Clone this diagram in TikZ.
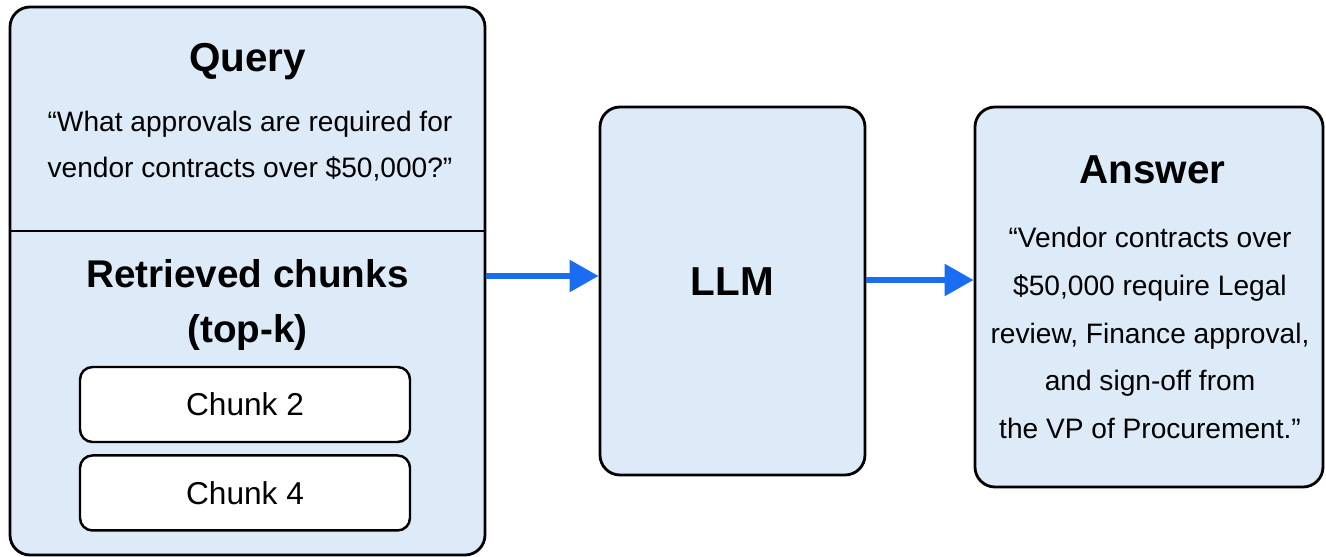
\documentclass[tikz,border=0pt]{standalone}
\usepackage{fontspec}
\setmainfont{Liberation Sans}
\usepackage{tikz}
\usetikzlibrary{arrows.meta, positioning, calc}

\definecolor{panelblue}{RGB}{221,234,248}
\definecolor{flowblue}{RGB}{26,108,240}

\tikzset{
	panel/.style={draw=black, line width=1.6pt, fill=panelblue, rounded corners=0.4cm},
	chunkbox/.style={draw=black, line width=1.4pt, fill=white, rounded corners=0.25cm,
		minimum width=6.6cm, minimum height=1.5cm, font=\fontsize{18}{20}\selectfont},
	title/.style={font=\bfseries\fontsize{23}{31}\selectfont, align=center},
	body/.style={font=\fontsize{16}{26}\selectfont, align=center},
	flow/.style={draw=flowblue, line width=3.2pt, -{Triangle[length=0.58cm, width=0.62cm]}}
}

\begin{document}
\begin{tikzpicture}[line join=round]
			
			% page frame
			\useasboundingbox[fill=white] (0,0) rectangle (26.52,-11.14);
			
			% --- LEFT: query plus retrieved context ---
			\node[panel, minimum width=9.5cm, minimum height=10.96cm] (ctx) at (4.95,-5.62) {};
			\coordinate (split) at (0,-4.62);
			\draw[line width=1.6pt] (ctx.west |- split) -- (ctx.east |- split);
			
			\node[title] (qtitle) at (4.95,-1.24) {Query};
			\node[body] (qtext) at (5.0,-2.92)
			{“What approvals are required for\\vendor contracts over \$50,000?”};
			
			\node[title, font=\bfseries\fontsize{22}{31}\selectfont] (rtitle) at (4.95,-6.1) {Retrieved chunks\\(top-k)};
			\node[chunkbox] (c2) at (4.9,-8.09) {Chunk 2};
			\node[chunkbox, below=0.22cm of c2] (c4) {Chunk 4};
			
			% --- MIDDLE: model ---
			\node[panel, minimum width=5.3cm, minimum height=7.36cm] (llm) at (14.65,-5.82) {};
			\node[title] (llmlabel) at (14.65,-5.63) {LLM};
			
			% --- RIGHT: generated answer ---
			\node[panel, minimum width=6.96cm, minimum height=7.6cm] (ans) at (22.98,-5.94) {};
			\node[title] (atitle) at (23.05,-3.4) {Answer};
			\node[body, font=\fontsize{16}{27.2}\selectfont] (atext) at (23.0,-6.66)
			{“Vendor contracts over\\\$50,000 require Legal\\review, Finance approval,\\and sign-off from\\the VP of Procurement.”};
			
			% flow arrows
			\coordinate (lanein) at (0,-5.52);
			\coordinate (laneout) at (0,-5.6);
			\draw[flow] (ctx.east |- lanein) -- (llm.west |- lanein);
			\draw[flow] (llm.east |- laneout) -- (ans.west |- laneout);
			
\end{tikzpicture}
\end{document}
